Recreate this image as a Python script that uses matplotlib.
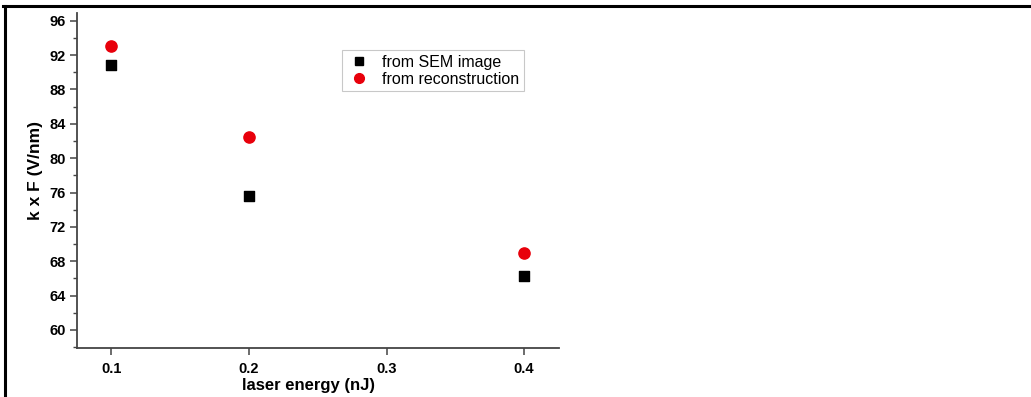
import matplotlib.pyplot as plt
from matplotlib.ticker import MultipleLocator
from matplotlib.lines import Line2D

energy = [0.1, 0.2, 0.4]
from_sem = [90.8, 75.6, 66.3]
from_recon = [93.0, 82.5, 69.0]

x_ticks = [0.1, 0.2, 0.3, 0.4]
y_ticks = [60, 64, 68, 72, 76, 80, 84, 88, 92, 96]

plt.rcParams['font.family'] = ['Liberation Sans', 'DejaVu Sans']


def main():
    fig = plt.figure(figsize=(10.31, 3.97), dpi=100)
    ax = fig.add_axes([0.0747, 0.1234, 0.4675, 0.8439])

    ax.scatter(energy, from_sem, marker='s', s=55, color='black', label='from SEM image', zorder=3)
    ax.scatter(energy, from_recon, marker='o', s=65, color='#e8000b', label='from reconstruction', zorder=3)

    ax.set_xlim(0.075, 0.4254)
    ax.set_ylim(57.9, 96.9)
    ax.set_xticks(x_ticks)
    ax.set_yticks(y_ticks)
    ax.yaxis.set_minor_locator(MultipleLocator(2))

    for side in ['top', 'right']:
        ax.spines[side].set_visible(False)
    for side in ['left', 'bottom']:
        ax.spines[side].set_color('#444444')
        ax.spines[side].set_linewidth(1.3)

    ax.tick_params(which='major', direction='out', length=5, width=1.1, color='#444444',
                   labelsize=10.5, pad=3)
    ax.tick_params(which='minor', direction='out', length=3, width=1.0, color='#444444')
    for lab in ax.get_xticklabels() + ax.get_yticklabels():
        lab.set_fontweight('bold')
    ax.tick_params(axis='x', pad=5)

    ax.set_xlabel('laser energy (nJ)', fontsize=12, fontweight='bold')
    ax.set_ylabel('k x F (V/nm)', fontsize=12.5, fontweight='bold')
    ax.xaxis.set_label_coords(0.48, -0.09)
    ax.yaxis.set_label_coords(-0.07, 0.53)

    handles = [
        Line2D([], [], marker='s', linestyle='none', color='black', markersize=6),
        Line2D([], [], marker='o', linestyle='none', color='#e8000b', markersize=7),
    ]
    leg = ax.legend(handles, ['from SEM image', 'from reconstruction'], loc='upper left',
                    bbox_to_anchor=(0.533, 0.913), fontsize=11.5, frameon=True, fancybox=False,
                    handletextpad=0.6, borderpad=0.3, labelspacing=0.1, handlelength=1.6)
    leg.get_frame().set_edgecolor('#bbbbbb')
    leg.get_frame().set_linewidth(0.8)

    # table cell border of the source document
    fig.add_artist(Line2D([0.003, 1.0], [0.985, 0.985], color='black', linewidth=2.2))
    fig.add_artist(Line2D([0.0045, 0.0045], [0.0, 0.985], color='black', linewidth=2.2))

    plt.savefig('out.png', dpi=100)
    plt.close()


if __name__ == "__main__":
    main()
